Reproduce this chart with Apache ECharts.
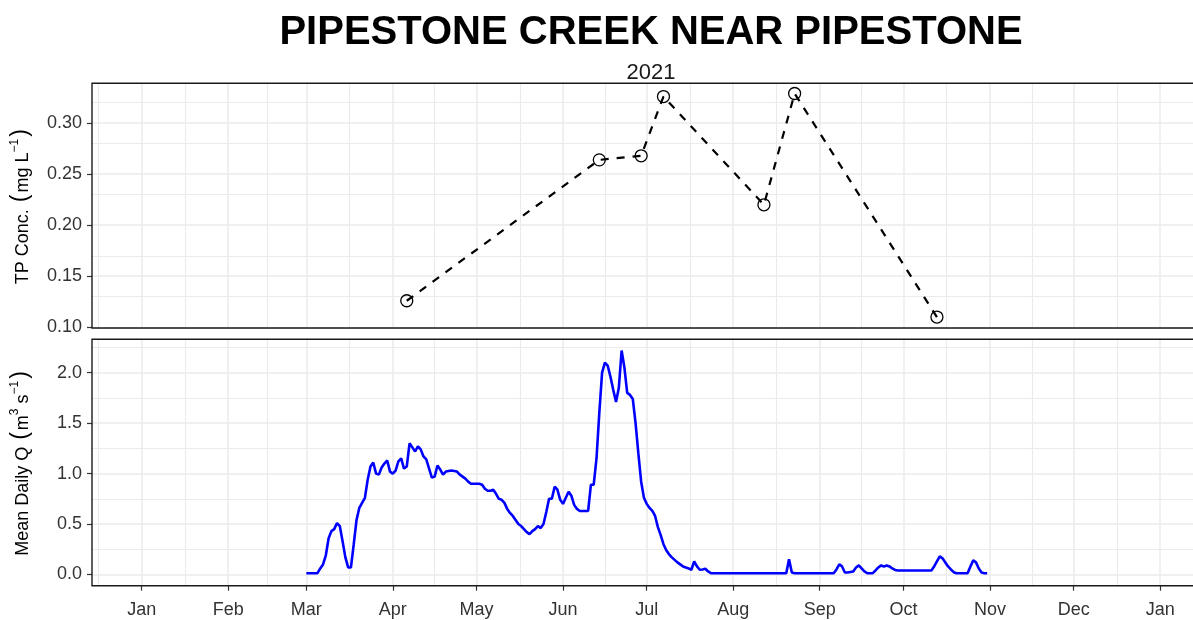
<!DOCTYPE html>
<html>
<head>
<meta charset="utf-8">
<title>Pipestone Creek near Pipestone</title>
<script src="https://cdn.jsdelivr.net/npm/echarts@6/dist/echarts.min.js"></script>
<style>
  html, body { margin: 0; padding: 0; background: #fff; overflow: hidden; width: 1193px; height: 620px; }
  #chart { width: 1215px; height: 620px; }
</style>
</head>
<body>
<div id="chart"></div>
<script>
// TP 采样（mg/L）
const tpDates = ['2021-04-06', '2021-06-14', '2021-06-29', '2021-07-07', '2021-08-12', '2021-08-23', '2021-10-13']
const tpValues = [0.126, 0.264, 0.268, 0.326, 0.220, 0.329, 0.110]

// 日均流量（m3/s），平直段只保留端点
const qDates = [
  '2021-03-01', '2021-03-05', '2021-03-06', '2021-03-07', '2021-03-08', '2021-03-09', '2021-03-10',
  '2021-03-11', '2021-03-12', '2021-03-13', '2021-03-14', '2021-03-15', '2021-03-16', '2021-03-17',
  '2021-03-18', '2021-03-19', '2021-03-20', '2021-03-21', '2021-03-22', '2021-03-23', '2021-03-24',
  '2021-03-25', '2021-03-26', '2021-03-27', '2021-03-28', '2021-03-29', '2021-03-30', '2021-03-31',
  '2021-04-01', '2021-04-02', '2021-04-03', '2021-04-04', '2021-04-05', '2021-04-06', '2021-04-07',
  '2021-04-08', '2021-04-09', '2021-04-10', '2021-04-11', '2021-04-12', '2021-04-13', '2021-04-14',
  '2021-04-15', '2021-04-16', '2021-04-17', '2021-04-18', '2021-04-19', '2021-04-20', '2021-04-22',
  '2021-04-24', '2021-04-25', '2021-04-26', '2021-04-27', '2021-04-28', '2021-04-29', '2021-04-30',
  '2021-05-01', '2021-05-02', '2021-05-03', '2021-05-04', '2021-05-05', '2021-05-06', '2021-05-07',
  '2021-05-08', '2021-05-09', '2021-05-10', '2021-05-11', '2021-05-12', '2021-05-13', '2021-05-14',
  '2021-05-15', '2021-05-16', '2021-05-17', '2021-05-18', '2021-05-19', '2021-05-20', '2021-05-21',
  '2021-05-22', '2021-05-23', '2021-05-24', '2021-05-25', '2021-05-26', '2021-05-27', '2021-05-28',
  '2021-05-29', '2021-05-30', '2021-05-31',
  '2021-06-01', '2021-06-02', '2021-06-03', '2021-06-04', '2021-06-05', '2021-06-06', '2021-06-07',
  '2021-06-10', '2021-06-11', '2021-06-12', '2021-06-13', '2021-06-14', '2021-06-15', '2021-06-16',
  '2021-06-17', '2021-06-18', '2021-06-19', '2021-06-20', '2021-06-21', '2021-06-22', '2021-06-23',
  '2021-06-24', '2021-06-25', '2021-06-26', '2021-06-27', '2021-06-28', '2021-06-29', '2021-06-30',
  '2021-07-01', '2021-07-02', '2021-07-03', '2021-07-04', '2021-07-05', '2021-07-06', '2021-07-07',
  '2021-07-08', '2021-07-09', '2021-07-10', '2021-07-11', '2021-07-12', '2021-07-13', '2021-07-14',
  '2021-07-15', '2021-07-16', '2021-07-17', '2021-07-18', '2021-07-19', '2021-07-20', '2021-07-21',
  '2021-07-22', '2021-07-23', '2021-07-24',
  '2021-08-20', '2021-08-21', '2021-08-22', '2021-08-23',
  '2021-09-06', '2021-09-07', '2021-09-08', '2021-09-09', '2021-09-10', '2021-09-11', '2021-09-12',
  '2021-09-13', '2021-09-14', '2021-09-15', '2021-09-16', '2021-09-17', '2021-09-18', '2021-09-20',
  '2021-09-21', '2021-09-22', '2021-09-23', '2021-09-24', '2021-09-25', '2021-09-26', '2021-09-27',
  '2021-09-28', '2021-09-29',
  '2021-10-11', '2021-10-12', '2021-10-13', '2021-10-14', '2021-10-15', '2021-10-16', '2021-10-17',
  '2021-10-18', '2021-10-19', '2021-10-20', '2021-10-24', '2021-10-25', '2021-10-26', '2021-10-27',
  '2021-10-28', '2021-10-29', '2021-10-30', '2021-10-31'
]
const qValues = [
  0.013, 0.013, 0.06, 0.10, 0.19, 0.36, 0.43,
  0.45, 0.51, 0.48, 0.33, 0.17, 0.07, 0.07,
  0.30, 0.54, 0.66, 0.71, 0.76, 0.94, 1.07,
  1.11, 1.00, 0.99, 1.06, 1.10, 1.13, 1.02,
  1.00, 1.03, 1.12, 1.15, 1.05, 1.07, 1.30,
  1.26, 1.22, 1.27, 1.24, 1.17, 1.14, 1.05,
  0.96, 0.97, 1.08, 1.04, 0.99, 1.02, 1.03,
  1.02, 0.99, 0.97, 0.95, 0.92, 0.90, 0.90,
  0.90, 0.90, 0.89, 0.85, 0.83, 0.83, 0.84,
  0.80, 0.75, 0.74, 0.71, 0.65, 0.61, 0.58,
  0.54, 0.50, 0.48, 0.45, 0.42, 0.40, 0.43,
  0.45, 0.48, 0.46, 0.50, 0.62, 0.75, 0.75,
  0.87, 0.84, 0.74,
  0.70, 0.76, 0.82, 0.78, 0.69, 0.65, 0.63,
  0.63, 0.89, 0.89, 1.15, 1.60, 2.00, 2.10,
  2.07, 1.96, 1.83, 1.71, 1.85, 2.22, 2.05,
  1.80, 1.78, 1.74, 1.50, 1.20, 0.92, 0.76,
  0.70, 0.66, 0.63, 0.58, 0.47, 0.39, 0.30,
  0.24, 0.20, 0.17, 0.145, 0.12, 0.10, 0.08,
  0.07, 0.06, 0.047, 0.13, 0.08, 0.047, 0.05,
  0.057, 0.03, 0.013,
  0.013, 0.15, 0.02, 0.013,
  0.013, 0.05, 0.10, 0.08, 0.02, 0.02, 0.025,
  0.03, 0.07, 0.09, 0.06, 0.03, 0.013, 0.013,
  0.04, 0.07, 0.09, 0.08, 0.09, 0.08, 0.06,
  0.045, 0.04,
  0.04, 0.08, 0.13, 0.18, 0.16, 0.12, 0.08,
  0.05, 0.023, 0.013, 0.013, 0.08, 0.14, 0.12,
  0.06, 0.02, 0.013, 0.013
]

// 坐标轴刻度
const monthLabels = ['Jan', 'Feb', 'Mar', 'Apr', 'May', 'Jun', 'Jul', 'Aug', 'Sep', 'Oct', 'Nov', 'Dec']
const monthTicks = [
  '2021-01-01', '2021-02-01', '2021-03-01', '2021-04-01', '2021-05-01', '2021-06-01', '2021-07-01',
  '2021-08-01', '2021-09-01', '2021-10-01', '2021-11-01', '2021-12-01', '2022-01-01'
]
const tpTicks = [0.10, 0.15, 0.20, 0.25, 0.30]
const qTicks = [0.0, 0.5, 1.0, 1.5, 2.0]

const DAY = 86400000
const FONT = '"Liberation Sans", Arial, sans-serif'
// 坐标范围（ggplot 默认 5% 扩展，右侧超出画面被裁掉）
const xMin = Date.UTC(2021, 0, 1) - 17.8 * DAY
const xMax = Date.UTC(2022, 0, 1) + 17.5 * DAY
const tpMin = 0.0993, tpMax = 0.339
const qMin = -0.111, qMax = 2.331

// 月中的次网格线
function monthMinor() {
    const starts = [Date.UTC(2020, 11, 1)].concat(monthTicks.map(Date.parse), [Date.UTC(2022, 1, 1)])
    const out = []
    for (let i = 1; i < starts.length; i++) out.push((starts[i - 1] + starts[i]) / 2)
    return out.filter(v => v > xMin && v < xMax)
}

function valueMinor(ticks, lo, hi) {
    const step = ticks[1] - ticks[0]
    const ext = [ticks[0] - step].concat(ticks, [ticks[ticks.length - 1] + step])
    const out = []
    for (let i = 1; i < ext.length; i++) out.push((ext[i - 1] + ext[i]) / 2)
    return out.filter(v => v > lo && v < hi)
}

/**
 * 用 markLine 画出 ggplot 风格的网格线
 */
function gridSeries(idx, yTicks, lo, hi) {
    const major = { color: '#ebebeb', width: 1.5, type: 'solid' }
    const minor = { color: '#ebebeb', width: 1.1, type: 'solid' }
    const xMajor = monthTicks.map(Date.parse).filter(v => v > xMin && v < xMax)
    const lines = [].concat(
        monthMinor().map(v => ({ xAxis: v, lineStyle: minor })),
        valueMinor(yTicks, lo, hi).map(v => ({ yAxis: v, lineStyle: minor })),
        xMajor.map(v => ({ xAxis: v, lineStyle: major })),
        yTicks.map(v => ({ yAxis: v, lineStyle: major }))
    )
    return {
        type: 'line',
        xAxisIndex: idx,
        yAxisIndex: idx,
        data: [],
        silent: true,
        z: 1,
        markLine: {
            silent: true,
            animation: false,
            symbol: ['none', 'none'],
            label: { show: false },
            emphasis: { disabled: true },
            data: lines
        }
    }
}

const tickValues = monthTicks.map(Date.parse)
const tpData = tpDates.map((d, i) => [Date.parse(d), tpValues[i]])
const qData = qDates.map((d, i) => [Date.parse(d), qValues[i]])

const gridBase = {
    left: 92,
    width: 1117,
    show: true,
    backgroundColor: 'transparent',
    borderColor: '#1a1a1a',
    borderWidth: 1.4,
    z: 10
}

const yLabel = {
    fontFamily: FONT,
    fontSize: 18,
    color: '#333',
    margin: 10
}

// 纵轴标题（带上标）
const nameRich = {
    t: { fontFamily: FONT, fontSize: 18, color: '#000', verticalAlign: 'bottom' },
    p: { fontFamily: FONT, fontSize: 23, color: '#000', verticalAlign: 'bottom', padding: [0, 2, 0, 2] },
    s: { fontFamily: FONT, fontSize: 12, color: '#000', verticalAlign: 'top' }
}

const cs = echarts.init(document.getElementById('chart'), null, { renderer: 'canvas' })
const option = {
    animation: false,
    backgroundColor: '#fff',
    textStyle: { fontFamily: FONT },
    graphic: [
        {
            type: 'text',
            x: 651,
            y: 13,
            style: {
                text: 'PIPESTONE CREEK NEAR PIPESTONE',
                align: 'center',
                font: 'bold 40px ' + FONT,
                fill: '#000'
            }
        },
        {
            type: 'text',
            x: 651,
            y: 62,
            style: {
                text: '2021',
                align: 'center',
                font: '22px ' + FONT,
                fill: '#1a1a1a'
            }
        }
    ],
    grid: [
        Object.assign({ top: 83.3, height: 244.7 }, gridBase),
        Object.assign({ top: 339.3, height: 246.4 }, gridBase)
    ],
    xAxis: [
        {
            type: 'value',
            gridIndex: 0,
            min: xMin,
            max: xMax,
            axisLine: { show: false, onZero: false },
            axisTick: { show: false },
            axisLabel: { show: false },
            splitLine: { show: false }
        },
        {
            type: 'value',
            gridIndex: 1,
            min: xMin,
            max: xMax,
            axisLine: { show: false, onZero: false },
            axisTick: {
                show: true,
                customValues: tickValues,
                length: 5,
                lineStyle: { color: '#333', width: 1.2 }
            },
            axisLabel: {
                customValues: tickValues,
                formatter: v => monthLabels[new Date(v).getUTCMonth()],
                fontFamily: FONT,
                fontSize: 18,
                color: '#333',
                margin: 15
            },
            splitLine: { show: false }
        }
    ],
    yAxis: [
        {
            type: 'value',
            gridIndex: 0,
            min: tpMin,
            max: tpMax,
            name: '{t|TP Conc. }{p|(}{t|mg L}{s|−1}{p|)}',
            nameLocation: 'middle',
            nameGap: 60,
            nameTextStyle: { rich: nameRich },
            axisLine: { show: false, onZero: false },
            axisTick: {
                show: true,
                customValues: tpTicks,
                length: 5,
                lineStyle: { color: '#333', width: 1.2 }
            },
            axisLabel: Object.assign({ customValues: tpTicks, formatter: v => v.toFixed(2) }, yLabel),
            splitLine: { show: false }
        },
        {
            type: 'value',
            gridIndex: 1,
            min: qMin,
            max: qMax,
            name: '{t|Mean Daily Q }{p|(}{t|m}{s|3}{t| s}{s|−1}{p|)}',
            nameLocation: 'middle',
            nameGap: 60,
            nameTextStyle: { rich: nameRich },
            axisLine: { show: false, onZero: false },
            axisTick: {
                show: true,
                customValues: qTicks,
                length: 5,
                lineStyle: { color: '#333', width: 1.2 }
            },
            axisLabel: Object.assign({ customValues: qTicks, formatter: v => v.toFixed(1) }, yLabel),
            splitLine: { show: false }
        }
    ],
    series: [
        gridSeries(0, tpTicks, tpMin, tpMax),
        gridSeries(1, qTicks, qMin, qMax),
        {
            type: 'line',
            name: 'TP',
            xAxisIndex: 0,
            yAxisIndex: 0,
            data: tpData,
            z: 5,
            symbol: 'circle',
            symbolSize: 12,
            showSymbol: true,
            lineStyle: { color: '#000', width: 2.2, type: [8, 8] },
            itemStyle: { color: 'rgba(0,0,0,0)', borderColor: '#000', borderWidth: 1.3 },
            emphasis: { disabled: true }
        },
        {
            type: 'line',
            name: 'Q',
            xAxisIndex: 1,
            yAxisIndex: 1,
            data: qData,
            z: 5,
            showSymbol: false,
            symbol: 'none',
            lineStyle: { color: '#0000ff', width: 2.6 },
            emphasis: { disabled: true }
        }
    ]
}
cs.setOption(option)
</script>
</body>
</html>
